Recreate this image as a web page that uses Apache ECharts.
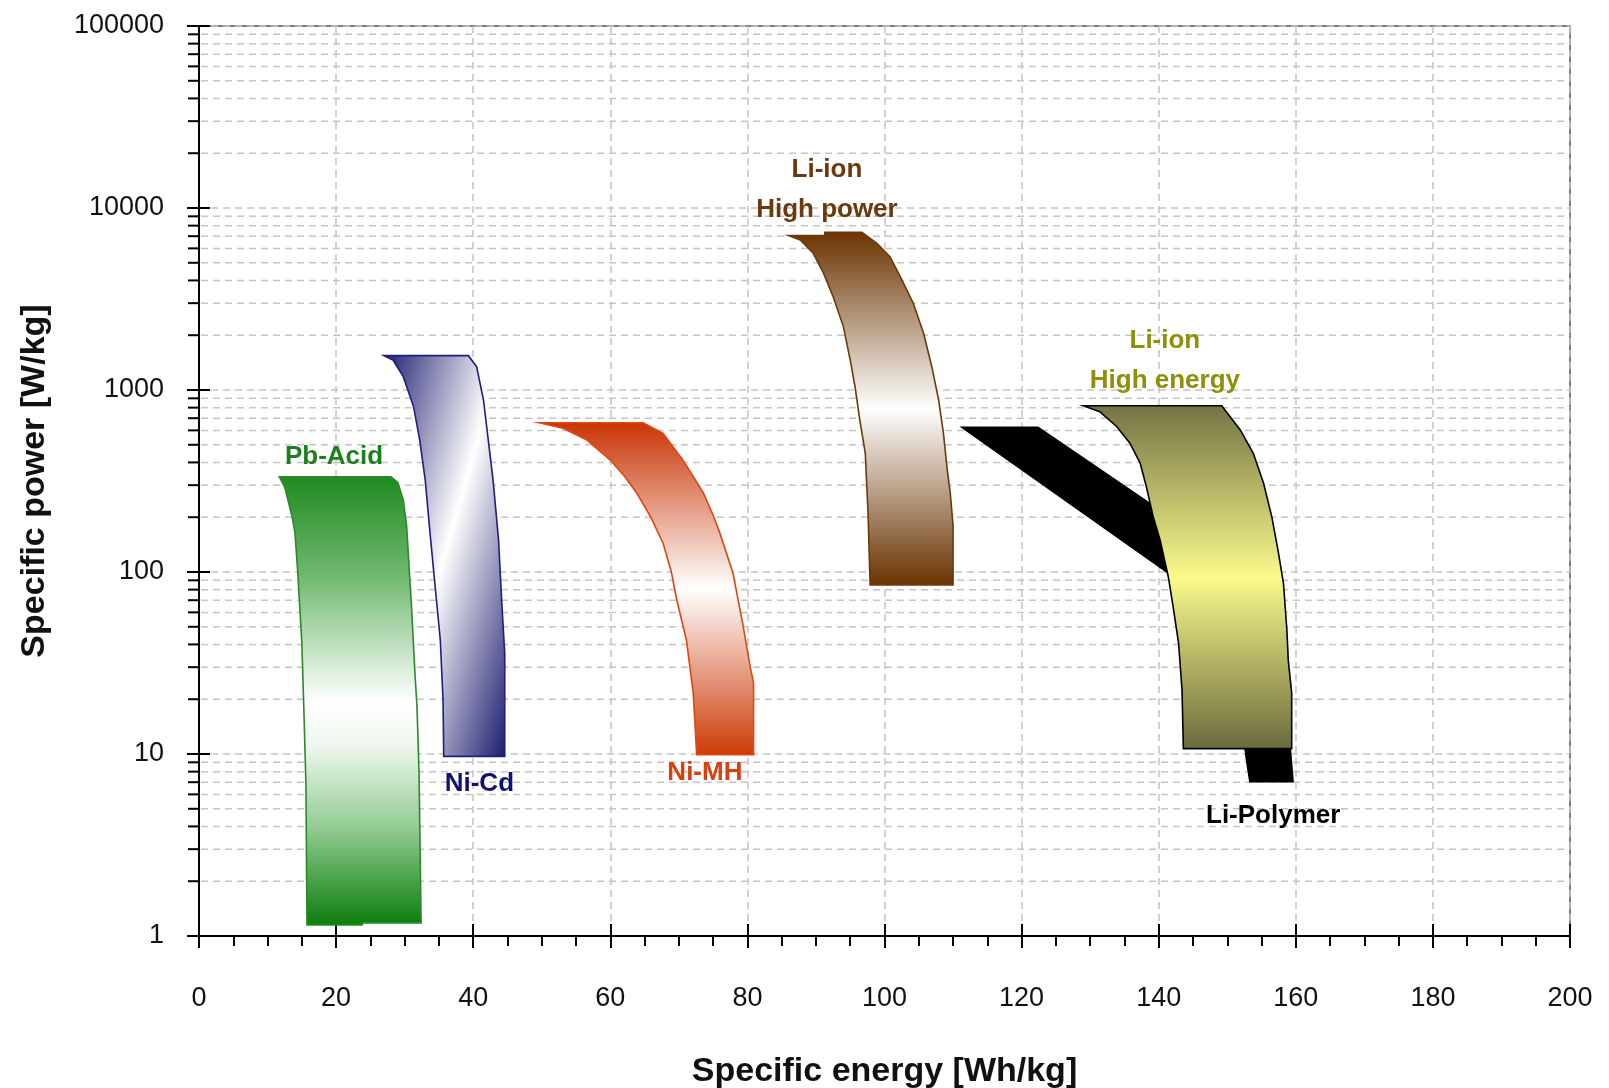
<!DOCTYPE html>
<html><head><meta charset="utf-8">
<script src="https://cdn.jsdelivr.net/npm/echarts@6/dist/echarts.min.js"></script>
<style>html,body{margin:0;padding:0;background:#fff}#c{width:1609px;height:1088px}</style>
</head><body><div id="c"></div>
<script>
// ---- axis ticks ----
const xTickLabels = ['0','20','40','60','80','100','120','140','160','180','200'];
const yTickLabels = ['1','10','100','1000','10000','100000'];
const yDecades = [1, 10, 100, 1000, 10000];
const yMinorFactors = [2, 3, 4, 5, 6, 7, 8, 9];

// ---- region outlines: [specific energy Wh/kg, specific power W/kg] ----
const pbAcidLeft  = [[11.7,334],[12.5,293],[13.6,200],[14.0,164],[14.4,100],[15.0,41],[15.3,17.4],[15.6,6.8],[15.75,1.15],[23.8,1.15]];
const pbAcidRight = [[28.0,334],[29.0,310],[29.8,249],[30.3,177],[30.7,99],[31.0,64.5],[31.5,27.9],[31.8,18.2],[32.1,7.9],[32.4,1.18],[23.9,1.18]];

const niCdLeft  = [[27.0,1544],[28.3,1462],[29.8,1184],[31.3,810],[32.2,531],[33.0,320],[33.7,164],[34.4,87],[35.2,42.3],[35.6,19.8],[35.7,9.7]];
const niCdRight = [[39.3,1544],[40.5,1343],[41.5,881],[42.2,531],[42.9,320],[43.7,150],[44.2,64.5],[44.6,35.9],[44.6,9.7]];

const niMhLeft  = [[49.6,661],[53.1,616],[56.6,531],[60.0,412],[62.1,335],[63.9,270],[65.9,200],[67.7,144],[68.9,100],[69.7,70.2],[71.1,42.3],[72.1,21.6],[72.6,9.9]];
const niMhRight = [[64.8,661],[67.7,578],[70.6,412],[72.2,330],[73.6,270],[75.0,205],[76.0,163],[77.9,98.4],[79.4,50],[80.4,30.2],[80.9,24.5],[80.9,9.9]];

const liHpLeft  = [[86.0,7060],[87.7,6670],[89.6,5640],[91.1,4380],[92.5,3260],[94.0,2230],[95.0,1462],[95.7,1042],[96.4,684],[97.2,449],[97.6,210],[97.9,85]];
const liHpRight = [[91.3,7060],[91.3,7350],[96.7,7350],[98.9,6400],[100.8,5400],[102.3,4200],[104.2,2995],[105.7,2050],[106.9,1343],[107.9,881],[108.6,578],[109.1,379],[109.6,270],[110.0,181],[110.0,85]];

const liHeLeft  = [[129.0,820],[131.4,760],[133.9,628],[135.8,510],[137.3,396],[138.2,294],[139.2,201],[140.2,150],[141.4,94.2],[142.1,64.5],[142.9,40.6],[143.4,22.5],[143.6,10.7]];
const liHeRight = [[149.2,820],[151.9,603],[153.8,449],[155.3,307],[156.5,201],[157.4,132],[158.2,86.7],[158.7,48],[158.9,32.8],[159.4,21.6],[159.4,10.7]];

const liPolyLeft  = [[111.3,624],[141.2,100],[148,30],[152.6,10.7],[152.8,9.3],[153.3,7.05]];
const liPolyRight = [[122.4,624],[138.7,238],[150,120],[156,30],[159.2,10.7],[159.6,7.05]];

// ---- labels: [x, y, text, colour] ----
const regionLabels = [
  [19.7, 428, 'Pb-Acid', '#1e7f1e'],
  [40.9, 6.9, 'Ni-Cd', '#12126e'],
  [73.8, 7.86, 'Ni-MH', '#d8400e'],
  [91.6, 12600, 'Li-ion\nHigh power', '#6b3a0c'],
  [140.9, 1450, 'Li-ion\nHigh energy', '#8f8f0a'],
  [156.7, 4.6, 'Li-Polymer', '#000000']
];

const G = echarts.graphic;
const vGrad = (c0, cm, c1) => new G.LinearGradient(0, 0, 0, 1, [
  {offset: 0, color: c0}, {offset: 0.5, color: cm}, {offset: 1, color: c1}]);

const shapes = [
  {left: pbAcidLeft, right: pbAcidRight, stroke: '#2a8a2a',
   fill: new G.LinearGradient(0, 0, 0, 1, [
     {offset: 0, color: '#1f8a1f'}, {offset: 0.22, color: '#6fb86f'},
     {offset: 0.5, color: '#ffffff'}, {offset: 0.6, color: '#eef7ee'},
     {offset: 0.78, color: '#94cc94'}, {offset: 1, color: '#0a7d0a'}])},
  {left: niCdLeft, right: niCdRight, stroke: '#1e1e80',
   fill: new G.LinearGradient(-0.42, 0.42, 1.42, 0.58, [
     {offset: 0, color: '#1a1a6e'}, {offset: 0.5, color: '#ffffff'}, {offset: 1, color: '#16166a'}])},
  {left: niMhLeft, right: niMhRight, stroke: '#de4612', fill: vGrad('#c93404', '#ffffff', '#cd3a08')},
  {left: liHpLeft, right: liHpRight, stroke: '#6b3a08', fill: vGrad('#6a3300', '#ffffff', '#683200')},
  {left: liPolyLeft, right: liPolyRight, stroke: '#000000', fill: '#000000'},
  {left: liHeLeft, right: liHeRight, stroke: '#000000', fill: new G.LinearGradient(0, 0, 0, 1, [
     {offset: 0, color: '#737343'}, {offset: 0.5, color: '#fafa8c'}, {offset: 1, color: '#6a6a3c'}])}
];

const minorVals = [];
yDecades.forEach(d => yMinorFactors.forEach(f => minorVals.push([0, d * f])));

const tickFont = '"Liberation Sans",Arial,sans-serif';
const labelFont = '"Liberation Sans",Arial,sans-serif';

const series = [];
// minor log grid lines and ticks
series.push({
  type: 'custom', xAxisIndex: 0, yAxisIndex: 0, silent: true, z: 1,
  data: minorVals,
  renderItem: function (params, api) {
    const v = api.value(1);
    const p0 = api.coord([0, v]);
    const p1 = api.coord([200, v]);
    return {type: 'group', children: [
      {type: 'line', shape: {x1: p0[0] + 2, y1: p0[1], x2: p1[0], y2: p1[1]},
       style: {stroke: '#c4c4c4', lineWidth: 1.5, lineDash: [7, 5]}},
      {type: 'line', shape: {x1: p0[0] - 11, y1: p0[1], x2: p0[0], y2: p0[1]},
       style: {stroke: '#000', lineWidth: 2}}
    ]};
  }
});
shapes.forEach((s, i) => {
  const outline = s.left.concat(s.right.slice().reverse());
  series.push({
    type: 'custom', xAxisIndex: 0, yAxisIndex: 0, silent: true, z: 3 + i,
    data: outline,
    renderItem: function (params, api) {
      if (params.dataIndex !== 0) return null;
      const pts = outline.map(p => api.coord(p));
      return {type: 'polygon', shape: {points: pts},
        style: {fill: s.fill, stroke: s.stroke, lineWidth: 1.6, lineJoin: 'miter'}};
    }
  });
});
series.push({
  type: 'custom', xAxisIndex: 0, yAxisIndex: 0, silent: true, z: 20,
  data: regionLabels,
  renderItem: function (params, api) {
    const d = regionLabels[params.dataIndex];
    const p = api.coord([d[0], d[1]]);
    return {type: 'text', x: p[0], y: p[1], style: {
      text: d[2], fill: d[3], font: 'bold 26px ' + labelFont,
      align: 'center', verticalAlign: 'middle', lineHeight: 40}};
  }
});

const chart = echarts.init(document.getElementById('c'), null, {renderer: 'canvas'});
chart.setOption({
  animation: false,
  backgroundColor: '#ffffff',
  grid: {left: 199, top: 26, right: 39, bottom: 152, show: true, borderColor: '#555', borderWidth: 1.5,
    backgroundColor: 'transparent', outerBoundsMode: 'none', containLabel: false},
  xAxis: [{
    type: 'value', min: 0, max: 200, interval: 20, position: 'bottom',
    name: 'Specific energy [Wh/kg]', nameLocation: 'middle', nameGap: 119,
    nameTextStyle: {fontFamily: labelFont, fontWeight: 'bold', fontSize: 34, color: '#111'},
    axisLine: {show: true, onZero: false, lineStyle: {color: '#000', width: 2}},
    axisTick: {show: true, length: 12, lineStyle: {color: '#000', width: 2}},
    minorTick: {show: true, splitNumber: 4, length: 10, lineStyle: {color: '#000', width: 2}},
    splitLine: {show: true, lineStyle: {color: '#c4c4c4', width: 1.5, type: [7, 5]}},
    axisLabel: {margin: 49, fontFamily: tickFont, fontSize: 27, color: '#111',
      formatter: v => xTickLabels[Math.round(v / 20)]}
  }, {
    type: 'value', min: 0, max: 200, interval: 20, position: 'bottom',
    axisLine: {show: false}, axisLabel: {show: false}, splitLine: {show: false},
    axisTick: {show: true, inside: true, length: 12, lineStyle: {color: '#000', width: 2}}
  }],
  yAxis: [{
    type: 'log', logBase: 10, min: 1, max: 100000, position: 'left',
    name: 'Specific power [W/kg]', nameLocation: 'middle', nameGap: 147, nameRotate: 90,
    nameTextStyle: {fontFamily: labelFont, fontWeight: 'bold', fontSize: 34, color: '#111'},
    axisLine: {show: true, onZero: false, lineStyle: {color: '#000', width: 2}},
    axisTick: {show: true, length: 12, lineStyle: {color: '#000', width: 2}},
    splitLine: {show: true, lineStyle: {color: '#c4c4c4', width: 1.5, type: [7, 5]}},
    axisLabel: {margin: 35, fontFamily: tickFont, fontSize: 27, color: '#111',
      formatter: v => yTickLabels[Math.round(Math.log10(v))]}
  }, {
    type: 'log', logBase: 10, min: 1, max: 100000, position: 'left',
    axisLine: {show: false}, axisLabel: {show: false}, splitLine: {show: false},
    axisTick: {show: true, inside: true, length: 11, lineStyle: {color: '#000', width: 2}}
  }],
  series: series
});
</script></body></html>
